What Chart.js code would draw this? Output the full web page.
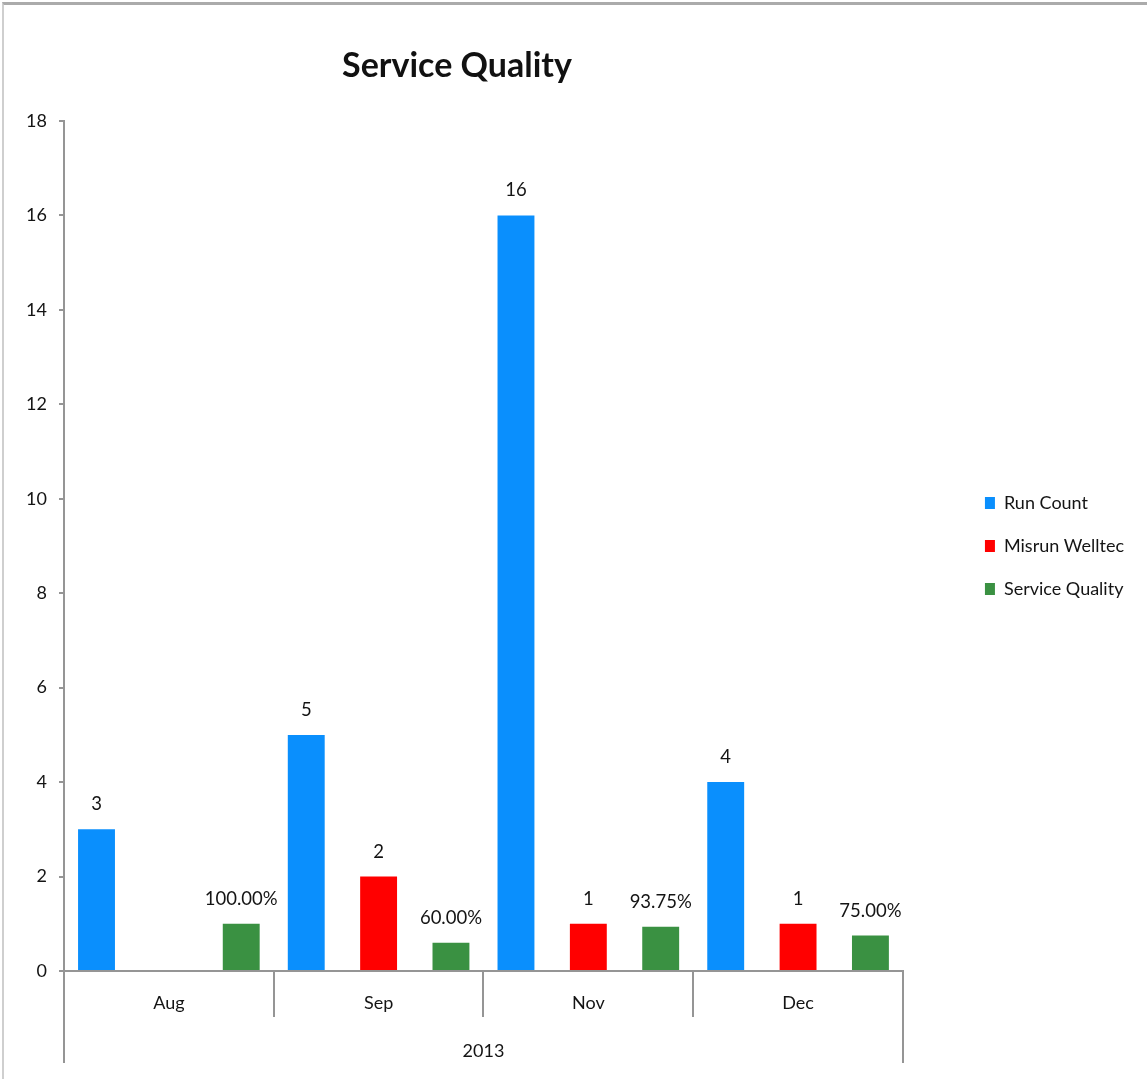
<!DOCTYPE html>
<html>
<head>
<meta charset="utf-8">
<script src="https://cdn.jsdelivr.net/npm/chart.js@4.4.0/dist/chart.umd.min.js"></script>
<style>
  html, body { margin: 0; padding: 0; background: #fff; }
  #wrap { position: relative; width: 1147px; height: 1079px; overflow: hidden; }
  #wrap canvas { position: absolute; left: 0; top: 0; }
  #frame { position: absolute; left: 2px; top: 2px; right: 0; bottom: 0;
           border-top: 3px solid #ababab; border-left: 2px solid #cfcfcf; pointer-events: none; }
</style>
</head>
<body>
<div id="wrap">
  <canvas id="chart" width="1147" height="1079"></canvas>
  <div id="frame"></div>
</div>
<script>
// ---- data ----
const chartTitle = 'Service Quality';
const months = ['Aug', 'Sep', 'Nov', 'Dec'];
const yearLabels = ['2013'];
const seriesNames = ['Run Count', 'Misrun Welltec', 'Service Quality'];
const runCount = [3, 5, 16, 4];
const misrunWelltec = [null, 2, 1, 1];
const serviceQuality = [1.0, 0.60, 0.9375, 0.75];   // ratios, labelled as percentages
const yMin = 0, yMax = 18, yStep = 2;

// ---- styling ----
const FONT = 'Lato';
const AXIS_GREY = '#959595';
const TEXT = '#141414';
Chart.defaults.font.family = FONT;
Chart.defaults.font.size = 18;
Chart.defaults.color = TEXT;

// value labels above every bar
const valueLabels = {
  id: 'valueLabels',
  afterDatasetsDraw(chart) {
    const ctx = chart.ctx;
    ctx.save();
    ctx.font = `18.5px ${FONT}`;
    ctx.fillStyle = TEXT;
    ctx.textAlign = 'center';
    ctx.textBaseline = 'middle';
    chart.data.datasets.forEach((ds, i) => {
      const meta = chart.getDatasetMeta(i);
      meta.data.forEach((bar, j) => {
        const v = ds.data[j];
        if (v === null || v === undefined) return;
        const text = ds.percent ? (v * 100).toFixed(2) + '%' : String(v);
        ctx.fillText(text, bar.x, bar.y - 25);
      });
    });
    ctx.restore();
  }
};

// chart heading, set a little left of the plot centre
const heading = {
  id: 'heading',
  afterDraw(chart) {
    const ctx = chart.ctx;
    ctx.save();
    ctx.font = `bold 34px ${FONT}`;
    ctx.fillStyle = '#111';
    ctx.textAlign = 'center';
    ctx.textBaseline = 'middle';
    ctx.fillText(chartTitle, chart.chartArea.left + 393, 66);
    ctx.restore();
  }
};

const gridStyle = { color: AXIS_GREY, lineWidth: 2, drawOnChartArea: false };

new Chart(document.getElementById('chart'), {
  type: 'bar',
  data: {
    labels: months,
    datasets: [
      { label: seriesNames[0], data: runCount, backgroundColor: '#0a8ffd', xAxisID: 'x', yAxisID: 'y' },
      { label: seriesNames[1], data: misrunWelltec, backgroundColor: '#ff0000', xAxisID: 'x', yAxisID: 'y' },
      { label: seriesNames[2], data: serviceQuality, backgroundColor: '#3a9142', xAxisID: 'x', yAxisID: 'y', percent: true }
    ]
  },
  options: {
    responsive: false,
    animation: false,
    devicePixelRatio: 1,
    categoryPercentage: 1.035,
    barPercentage: 0.51,
    layout: { padding: { top: 121, left: 0, right: 13, bottom: 0 } },
    plugins: {
      title: { display: false },
      tooltip: { enabled: false },
      legend: {
        position: 'right',
        fullSize: false,
        labels: { boxWidth: 10, boxHeight: 12, padding: 25, color: TEXT, font: { size: 18 } }
      }
    },
    scales: {
      x: {
        type: 'category',
        position: 'bottom',
        weight: 0,
        offset: true,
        grid: { ...gridStyle, offset: true, tickLength: 46 },
        border: { color: AXIS_GREY, width: 2 },
        ticks: { padding: -25, maxRotation: 0, autoSkip: false, color: TEXT, font: { size: 18, lineHeight: 1.2 } },
        afterFit: s => { s.height = 46; }
      },
      year: {
        type: 'category',
        labels: yearLabels,
        position: 'bottom',
        weight: 1,
        offset: true,
        grid: { ...gridStyle, offset: true, tickLength: 46 },
        border: { display: false },
        ticks: { padding: -23, maxRotation: 0, color: TEXT, font: { size: 18, lineHeight: 1.2 } },
        afterFit: s => { s.height = 62; }
      },
      y: {
        type: 'linear',
        position: 'left',
        min: yMin,
        max: yMax,
        ticks: { stepSize: yStep, padding: 12, color: TEXT, font: { size: 18 } },
        grid: { ...gridStyle, tickLength: 5 },
        border: { color: AXIS_GREY, width: 2 },
        afterFit: s => { s.width = 64; }
      },
      gap: {
        type: 'linear',
        position: 'right',
        display: true,
        grid: { display: false },
        ticks: { display: false },
        border: { display: false },
        afterFit: s => { s.width = 57; }
      }
    }
  },
  plugins: [valueLabels, heading]
});
</script>
</body>
</html>
